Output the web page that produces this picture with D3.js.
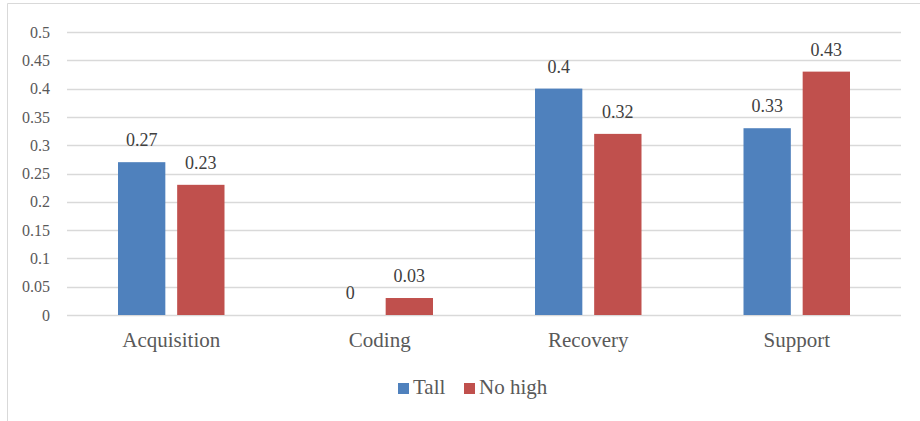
<!DOCTYPE html>
<html>
<head>
<meta charset="utf-8">
<script src="https://cdn.jsdelivr.net/npm/d3@7"></script>
</head>
<body style="margin:0; background:#fff">
<div id="chart"></div>
<script>
// data
var categories = ["Acquisition", "Coding", "Recovery", "Support"];
var seriesNames = ["Tall", "No high"];
var tallValues = [0.27, 0, 0.4, 0.33];
var noHighValues = [0.23, 0.03, 0.32, 0.43];
var yTicks = [0, 0.05, 0.1, 0.15, 0.2, 0.25, 0.3, 0.35, 0.4, 0.45, 0.5];
var colors = ["#4F81BD", "#C0504D"];

var FONT = "Liberation Serif";
var W = 920, H = 421;
var margin = {top: 32, right: 19, bottom: 106, left: 67};
var width = W - margin.left - margin.right,
    height = H - margin.top - margin.bottom;

var svg = d3.select("#chart").append("svg")
  .attr("width", W)
  .attr("height", H)
  .attr("font-family", FONT);

// chart area border (only top and left show in the crop)
svg.append("path")
  .attr("d", "M7.5,421V3.5H920")
  .attr("fill", "none")
  .attr("stroke", "#d9d9d9");

var g = svg.append("g")
  .attr("transform", "translate(" + margin.left + "," + margin.top + ")");

var x = d3.scaleBand().domain(categories).range([0, width]).paddingInner(0).paddingOuter(0);
var x1 = d3.scaleBand().domain(seriesNames).range([51, x.bandwidth() - 51]).paddingInner(0.2);
var y = d3.scaleLinear().domain([0, 0.5]).range([height, 0]);

// gridlines
g.selectAll(".grid")
  .data(yTicks)
  .enter().append("line")
  .attr("x1", 0).attr("x2", width)
  .attr("y1", function(d) { return Math.round(y(d)) + 0.5; })
  .attr("y2", function(d) { return Math.round(y(d)) + 0.5; })
  .attr("stroke", "#d9d9d9")
  .attr("stroke-width", 1.3);

// y axis labels
var yAxis = g.append("g")
  .attr("transform", "translate(-14,0)")
  .call(d3.axisLeft(y).tickValues(yTicks).tickSize(0).tickFormat(function(d) { return String(+d.toFixed(2)); }));
yAxis.select(".domain").remove();
yAxis.selectAll("text")
  .attr("font-family", FONT)
  .attr("font-size", 16)
  .attr("fill", "#595959");

// x axis labels
var xAxis = g.append("g")
  .attr("transform", "translate(0," + height + ")")
  .call(d3.axisBottom(x).tickSize(0).tickPadding(17));
xAxis.select(".domain").remove();
xAxis.selectAll("text")
  .attr("font-family", FONT)
  .attr("font-size", 21)
  .attr("fill", "#595959");

var rows = categories.map(function(c, i) {
  return [{cat: c, s: seriesNames[0], v: tallValues[i]},
          {cat: c, s: seriesNames[1], v: noHighValues[i]}];
});

var groups = g.selectAll(".grp")
  .data(rows)
  .enter().append("g")
  .attr("transform", function(d) { return "translate(" + x(d[0].cat) + ",0)"; });

groups.selectAll("rect")
  .data(function(d) { return d; })
  .enter().append("rect")
  .attr("x", function(d) { return x1(d.s); })
  .attr("y", function(d) { return y(d.v); })
  .attr("width", x1.bandwidth())
  .attr("height", function(d) { return height - y(d.v); })
  .attr("fill", function(d, i) { return colors[i]; });

groups.selectAll(".lbl")
  .data(function(d) { return d; })
  .enter().append("text")
  .attr("class", "lbl")
  .attr("x", function(d) { return x1(d.s) + x1.bandwidth() / 2; })
  .attr("y", function(d) { return y(d.v) - 16; })
  .attr("text-anchor", "middle")
  .attr("font-family", FONT)
  .attr("font-size", 18)
  .attr("fill", "#404040")
  .text(function(d) { return d.v; });

// legend
var legend = svg.append("g").attr("transform", "translate(398,383)");
var legX = [0, 66];
seriesNames.forEach(function(s, i) {
  legend.append("rect")
    .attr("x", legX[i]).attr("y", 0)
    .attr("width", 11).attr("height", 11)
    .attr("fill", colors[i]);
  legend.append("text")
    .attr("x", legX[i] + 15).attr("y", 11)
    .attr("font-family", FONT)
    .attr("font-size", 21)
    .attr("fill", "#595959")
    .text(s);
});
</script>
</body>
</html>
